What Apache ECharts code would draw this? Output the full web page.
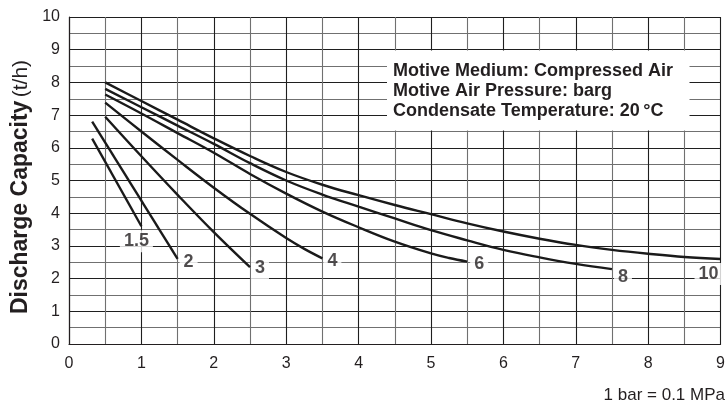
<!DOCTYPE html>
<html><head><meta charset="utf-8">
<script src="https://cdn.jsdelivr.net/npm/echarts@6/dist/echarts.min.js"></script>
<style>html,body{margin:0;padding:0;background:#fff}#c{width:728px;height:405px}</style>
</head><body><div id="c"></div>
<script>
// ---- data ----
const pressureLabels = ['1.5', '2', '3', '4', '6', '8', '10'];
const curve15 = [[0.32, 6.28], [1.0, 3.6]];
const curve2  = [[0.32, 6.8], [1.5, 2.6]];
const curve3  = [[0.5, 6.95], [1.0, 5.74], [1.5, 4.56], [2.0, 3.42], [2.5, 2.35]];
const curve4  = [[0.5, 7.38], [1.0, 6.5], [1.5, 5.63], [2.0, 4.78], [2.5, 3.98], [3.0, 3.24], [3.25, 2.91], [3.5, 2.62]];
const curve6  = [[0.5, 7.63], [1.0, 7.05], [1.5, 6.45], [2.0, 5.85], [2.5, 5.2], [3.0, 4.6], [3.5, 4.05], [4.0, 3.57], [4.5, 3.13], [5.0, 2.77], [5.25, 2.63], [5.5, 2.52]];
const curve8  = [[0.5, 7.8], [1.0, 7.24], [1.5, 6.68], [2.0, 6.12], [2.5, 5.53], [3.0, 5.0], [3.5, 4.57], [4.0, 4.2], [4.5, 3.84], [5.0, 3.48], [5.5, 3.17], [6.0, 2.88], [6.5, 2.65], [7.0, 2.45], [7.5, 2.29]];
const curve10 = [[0.5, 8.0], [1.0, 7.43], [1.5, 6.86], [2.0, 6.29], [2.5, 5.75], [3.0, 5.26], [3.5, 4.87], [4.0, 4.55], [4.5, 4.25], [5.0, 3.97], [5.5, 3.69], [6.0, 3.44], [6.5, 3.22], [7.0, 3.03], [7.5, 2.88], [8.0, 2.76], [8.5, 2.66], [9.0, 2.6]];
const xRange = [0, 9];
const yRange = [0, 10];
const yTitleBold = 'Discharge Capacity';
const yTitleUnit = '(t/h)';
const noteLines = ['Motive Medium: Compressed Air', 'Motive Air Pressure: barg', 'Condensate Temperature: 20\u2009°C'];
const footNote = '1 bar = 0.1 MPa';

// ---- styling ----
const curves = [curve15, curve2, curve3, curve4, curve6, curve8, curve10];
const labelOffsets = [[-5, 15], [11, 3], [10, 1], [10, 3], [12, 2], [11, 8], [-12, 15]];
const INK = '#231f20';
const FONT = '"Liberation Sans", Arial, Helvetica, sans-serif';

const chart = echarts.init(document.getElementById('c'));

const lineSeries = curves.map((c, i) => ({
  type: 'line',
  name: pressureLabels[i],
  data: c,
  smooth: 0.4,
  symbol: 'none',
  silent: true,
  z: 3,
  lineStyle: { color: '#1a1a1a', width: 2.4 }
}));

const labelSeries = {
  type: 'scatter',
  silent: true,
  z: 4,
  symbolSize: 1,
  itemStyle: { color: 'rgba(0,0,0,0)' },
  data: curves.map((c, i) => ({
    value: c[c.length - 1],
    label: { offset: labelOffsets[i], formatter: pressureLabels[i] }
  })),
  label: {
    show: true,
    position: 'inside',
    fontFamily: FONT,
    fontSize: 18,
    fontWeight: 'bold',
    color: INK,
    backgroundColor: '#fff',
    padding: [2, 4]
  }
};

const axisCommon = {
  type: 'value',
  axisLine: { show: true, lineStyle: { color: INK, width: 1.2 } },
  axisTick: { show: false },
  axisLabel: { fontFamily: FONT, fontSize: 16, color: INK },
  splitLine: { show: true, lineStyle: { color: '#1f1f1f', width: 1.1 } },
  minorTick: { show: false, splitNumber: 2 },
  minorSplitLine: { show: true, lineStyle: { color: '#707070', width: 1.1 } }
};

chart.setOption({
  animation: false,
  backgroundColor: '#fff',
  grid: { left: 69, right: 1, top: 17, bottom: 61 },
  xAxis: Object.assign({}, axisCommon, {
    min: xRange[0], max: xRange[1], interval: 1,
    axisLabel: Object.assign({}, axisCommon.axisLabel, { margin: 12 })
  }),
  yAxis: Object.assign({}, axisCommon, {
    min: yRange[0], max: yRange[1], interval: 1,
    axisLabel: Object.assign({}, axisCommon.axisLabel, { margin: 9 })
  }),
  series: lineSeries.concat([labelSeries]),
  graphic: [
    {
      type: 'rect', z: 1, silent: true,
      shape: { x: 387, y: 50.5, width: 302.5, height: 80 },
      style: { fill: '#fff' }
    },
    {
      type: 'text', z: 5, silent: true,
      x: 393, y: 71,
      style: { text: noteLines[0], font: 'bold 18px ' + FONT, fill: INK, align: 'left', verticalAlign: 'middle' }
    },
    {
      type: 'text', z: 5, silent: true,
      x: 393, y: 91,
      style: { text: noteLines[1], font: 'bold 18px ' + FONT, fill: INK, align: 'left', verticalAlign: 'middle' }
    },
    {
      type: 'text', z: 5, silent: true,
      x: 393, y: 111,
      style: { text: noteLines[2], font: 'bold 18px ' + FONT, fill: INK, align: 'left', verticalAlign: 'middle' }
    },
    {
      type: 'text', z: 5, silent: true,
      x: 21, y: 187, rotation: Math.PI / 2,
      style: {
        text: '{b|' + yTitleBold + '} {n|' + yTitleUnit + '}',
        fill: INK, align: 'center', verticalAlign: 'middle',
        rich: {
          b: { fontFamily: FONT, fontSize: 23, fontWeight: 'bold', fill: INK },
          n: { fontFamily: FONT, fontSize: 21, fill: INK }
        }
      }
    },
    {
      type: 'text', z: 5, silent: true,
      x: 725, y: 395,
      style: { text: footNote, font: '17px ' + FONT, fill: INK, align: 'right', verticalAlign: 'middle' }
    }
  ]
});
</script>
</body></html>
